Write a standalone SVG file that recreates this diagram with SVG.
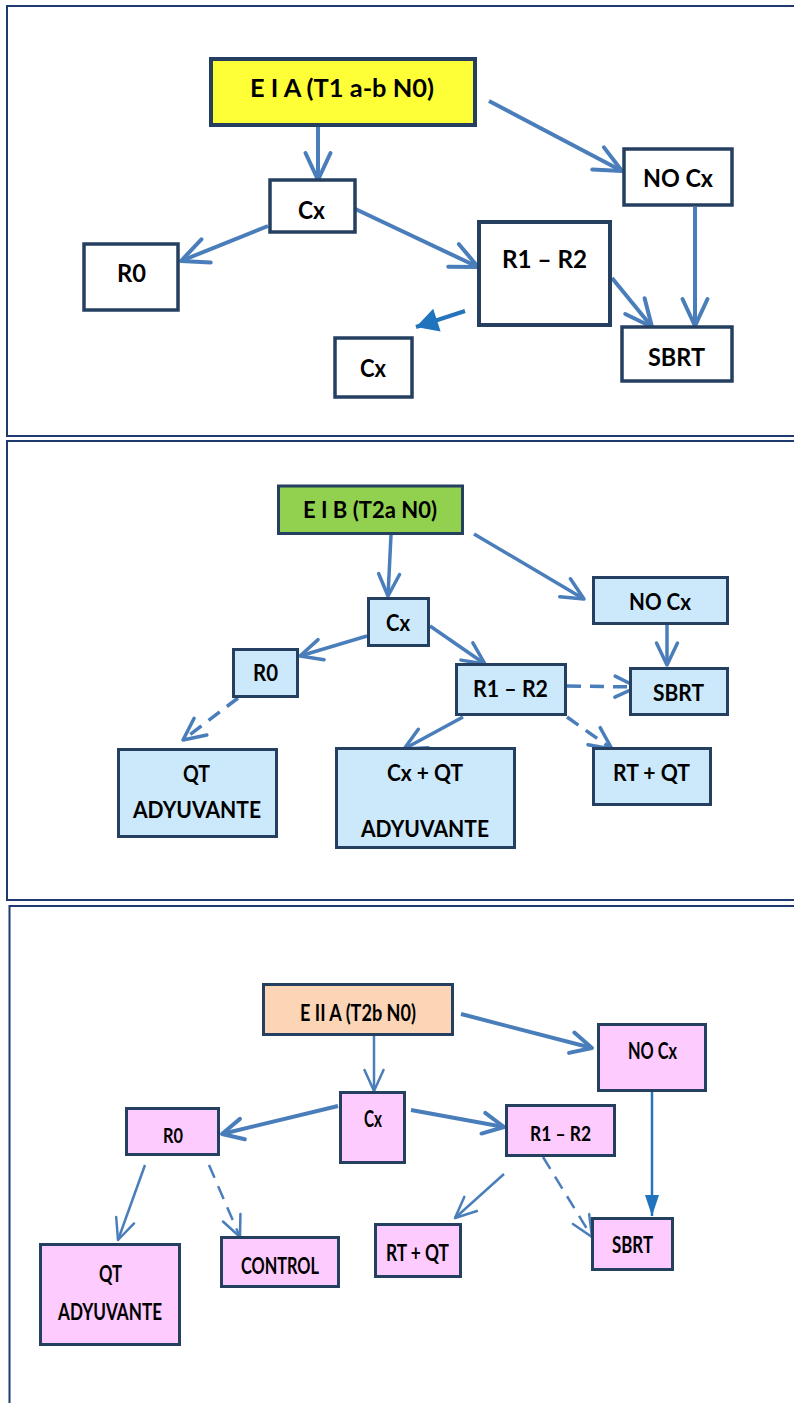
<svg xmlns="http://www.w3.org/2000/svg" width="794" height="1403" viewBox="0 0 794 1403">
  <style>
    .frame { fill: none; stroke: #1f3a70; stroke-width: 2; }
    .box { stroke: #243f60; }
    .p1 .box { fill: #ffffff; stroke-width: 3.5; }
    .p2 .box { fill: #cce9fb; stroke-width: 3; }
    .p3 .box { fill: #fdcbfd; stroke-width: 3; }
    .lbl { font-family: Lato, "Liberation Sans", sans-serif; font-weight: 700; fill: #000; }
    .p1 .lbl { font-size: 25px; }
    .p2 .lbl { font-size: 22px; }
    .p3 .lbl { font-size: 23px; }
    .p3 .lbl.sm { font-size: 20.5px; }
    .edge { fill: none; stroke: #4a7ebb; stroke-linecap: butt; }
    .w4 { stroke-width: 4; }
    .w35 { stroke-width: 3.5; }
    .w25 { stroke-width: 2.5; }
    .dash { stroke-dasharray: 14 9; }
    .solid-blue { stroke: #2474bb; }
  </style>
  <defs>
    <marker id="open-l" markerUnits="userSpaceOnUse" orient="auto" refX="0" refY="0" markerWidth="1" markerHeight="1" style="overflow:visible">
      <path d="M-27,-12.5 L0,0 L-27,12.5" fill="none" stroke="#4a7ebb" stroke-width="4" stroke-linejoin="round" stroke-linecap="round"/>
    </marker>
    <marker id="open-m" markerUnits="userSpaceOnUse" orient="auto" refX="0" refY="0" markerWidth="1" markerHeight="1" style="overflow:visible">
      <path d="M-22,-10.5 L0,0 L-22,10.5" fill="none" stroke="#4a7ebb" stroke-width="3.5" stroke-linejoin="round" stroke-linecap="round"/>
    </marker>
    <marker id="open-s4" markerUnits="userSpaceOnUse" orient="auto" refX="0" refY="0" markerWidth="1" markerHeight="1" style="overflow:visible">
      <path d="M-21,-10.5 L0,0 L-21,10.5" fill="none" stroke="#4a7ebb" stroke-width="4" stroke-linejoin="round" stroke-linecap="round"/>
    </marker>
    <marker id="open-s" markerUnits="userSpaceOnUse" orient="auto" refX="0" refY="0" markerWidth="1" markerHeight="1" style="overflow:visible">
      <path d="M-21,-9.5 L0,0 L-21,9.5" fill="none" stroke="#4a7ebb" stroke-width="2.5" stroke-linejoin="round" stroke-linecap="round"/>
    </marker>
    <marker id="tri-l" markerUnits="userSpaceOnUse" orient="auto" refX="0" refY="0" markerWidth="1" markerHeight="1" style="overflow:visible">
      <path d="M0,0 L-22,-12 L-22,12 Z" fill="#1f74bd"/>
    </marker>
    <marker id="tri-s" markerUnits="userSpaceOnUse" orient="auto" refX="0" refY="0" markerWidth="1" markerHeight="1" style="overflow:visible">
      <path d="M0,0 L-21,-7 L-21,7 Z" fill="#1f74bd"/>
    </marker>
  </defs>

  <rect width="794" height="1403" fill="#ffffff"/>

  <!-- panel frames -->
  <g id="frames">
    <rect class="frame" x="7" y="6" width="800" height="430"/>
    <rect class="frame" x="7" y="441" width="800" height="459"/>
    <rect class="frame" x="9.5" y="906" width="800" height="520"/>
  </g>

  <!-- ===== Stage I A ===== -->
  <g class="p1">
    <g id="connectors-1">
      <line class="edge w4" x1="318" y1="127" x2="318" y2="180" marker-end="url(#open-l)"/>
      <line class="edge w4" x1="489" y1="101" x2="622" y2="171" marker-end="url(#open-l)"/>
      <line class="edge w4" x1="268" y1="226" x2="181" y2="261" marker-end="url(#open-l)"/>
      <line class="edge w4" x1="349" y1="206" x2="478" y2="267" marker-end="url(#open-l)"/>
      <line class="edge w4" x1="612" y1="278" x2="652" y2="327" marker-end="url(#open-l)"/>
      <line class="edge w4" x1="695" y1="207" x2="695" y2="326" marker-end="url(#open-l)"/>
      <line class="edge w4 solid-blue" x1="465" y1="311" x2="416" y2="327" marker-end="url(#tri-l)"/>
    </g>
    <g id="n1-eia">
      <rect class="box" x="211" y="59" width="264" height="66" style="fill:#ffff38;stroke-width:4"/>
      <text class="lbl" x="250" y="97" textLength="184" lengthAdjust="spacingAndGlyphs">E I A (T1 a-b N0)</text>
    </g>
    <g id="n1-cx">
      <rect class="box" x="270" y="180" width="85" height="52"/>
      <text class="lbl" x="298" y="219" textLength="27" lengthAdjust="spacingAndGlyphs">Cx</text>
    </g>
    <g id="n1-nocx">
      <rect class="box" x="624" y="149" width="108" height="56"/>
      <text class="lbl" x="643" y="187" textLength="70" lengthAdjust="spacingAndGlyphs">NO Cx</text>
    </g>
    <g id="n1-r0">
      <rect class="box" x="84" y="244" width="94" height="66"/>
      <text class="lbl" x="117" y="282" textLength="29" lengthAdjust="spacingAndGlyphs">R0</text>
    </g>
    <g id="n1-r1r2">
      <rect class="box" x="479" y="222" width="131" height="103" style="stroke-width:4"/>
      <text class="lbl" x="502" y="268" textLength="85" lengthAdjust="spacingAndGlyphs">R1 – R2</text>
    </g>
    <g id="n1-cx2">
      <rect class="box" x="335" y="338" width="77" height="59"/>
      <text class="lbl" x="360" y="377" textLength="26" lengthAdjust="spacingAndGlyphs">Cx</text>
    </g>
    <g id="n1-sbrt">
      <rect class="box" x="622" y="327" width="110" height="54"/>
      <text class="lbl" x="648" y="366" textLength="57" lengthAdjust="spacingAndGlyphs">SBRT</text>
    </g>
  </g>

  <!-- ===== Stage I B ===== -->
  <g class="p2">
    <g id="connectors-2">
      <line class="edge w35" x1="391" y1="535" x2="388" y2="596" marker-end="url(#open-m)"/>
      <line class="edge w35" x1="474" y1="534" x2="584" y2="599" marker-end="url(#open-m)"/>
      <line class="edge w35" x1="367" y1="636" x2="300" y2="656" marker-end="url(#open-m)"/>
      <line class="edge w35" x1="430" y1="626" x2="485" y2="664" marker-end="url(#open-m)"/>
      <line class="edge w35 dash" x1="238" y1="698" x2="183" y2="740" marker-end="url(#open-m)"/>
      <line class="edge w35 dash" x1="567" y1="686" x2="637" y2="687" marker-end="url(#open-m)"/>
      <line class="edge w35" x1="463" y1="717" x2="404" y2="749" marker-end="url(#open-m)"/>
      <line class="edge w35 dash" x1="567" y1="717" x2="612" y2="749" marker-end="url(#open-m)"/>
      <line class="edge w35" x1="667" y1="625" x2="667" y2="665" marker-end="url(#open-m)"/>
    </g>
    <g id="n2-eib">
      <rect class="box" x="278.5" y="486" width="184" height="47.5" style="fill:#92d050"/>
      <text class="lbl" x="303" y="518" textLength="134" lengthAdjust="spacingAndGlyphs">E I B (T2a N0)</text>
    </g>
    <g id="n2-cx">
      <rect class="box" x="368.5" y="598.5" width="60" height="47"/>
      <text class="lbl" x="386" y="631" textLength="24" lengthAdjust="spacingAndGlyphs">Cx</text>
    </g>
    <g id="n2-nocx">
      <rect class="box" x="593.5" y="577.5" width="134" height="46"/>
      <text class="lbl" x="629" y="610" textLength="62" lengthAdjust="spacingAndGlyphs">NO Cx</text>
    </g>
    <g id="n2-r0">
      <rect class="box" x="233.5" y="649.5" width="64" height="47"/>
      <text class="lbl" x="253" y="681" textLength="25" lengthAdjust="spacingAndGlyphs">R0</text>
    </g>
    <g id="n2-r1r2">
      <rect class="box" x="456.5" y="664.5" width="109" height="50"/>
      <text class="lbl" x="473" y="697" textLength="75" lengthAdjust="spacingAndGlyphs">R1 – R2</text>
    </g>
    <g id="n2-sbrt">
      <rect class="box" x="630.5" y="668.5" width="97" height="46"/>
      <text class="lbl" x="653" y="701" textLength="51" lengthAdjust="spacingAndGlyphs">SBRT</text>
    </g>
    <g id="n2-qt">
      <rect class="box" x="118.5" y="749.5" width="158" height="87"/>
      <text class="lbl" x="183" y="782" textLength="27" lengthAdjust="spacingAndGlyphs">QT</text>
      <text class="lbl" x="133" y="818" textLength="128" lengthAdjust="spacingAndGlyphs">ADYUVANTE</text>
    </g>
    <g id="n2-cxqt">
      <rect class="box" x="336.5" y="748.5" width="178" height="99"/>
      <text class="lbl" x="387" y="781" textLength="76" lengthAdjust="spacingAndGlyphs">Cx + QT</text>
      <text class="lbl" x="361" y="837" textLength="128" lengthAdjust="spacingAndGlyphs">ADYUVANTE</text>
    </g>
    <g id="n2-rtqt">
      <rect class="box" x="593.5" y="748.5" width="117" height="56"/>
      <text class="lbl" x="613" y="781" textLength="77" lengthAdjust="spacingAndGlyphs">RT + QT</text>
    </g>
  </g>

  <!-- ===== Stage II A ===== -->
  <g class="p3">
    <g id="connectors-3">
      <line class="edge w25" x1="374" y1="1036" x2="374" y2="1091" marker-end="url(#open-s)"/>
      <line class="edge w4" x1="461" y1="1014" x2="592" y2="1048" marker-end="url(#open-s4)"/>
      <line class="edge w4" x1="338" y1="1106" x2="222" y2="1134" marker-end="url(#open-s4)"/>
      <line class="edge w4" x1="411" y1="1110" x2="504" y2="1127" marker-end="url(#open-s4)"/>
      <line class="edge w25 solid-blue" x1="652" y1="1092" x2="652" y2="1216" marker-end="url(#tri-s)"/>
      <line class="edge w25" x1="145" y1="1165" x2="118" y2="1240" marker-end="url(#open-s)"/>
      <line class="edge w25 dash" x1="209" y1="1165" x2="240" y2="1237" marker-end="url(#open-s)"/>
      <line class="edge w25" x1="504" y1="1174" x2="455" y2="1218" marker-end="url(#open-s)"/>
      <line class="edge w25 dash" x1="543" y1="1157" x2="592" y2="1237" marker-end="url(#open-s)"/>
    </g>
    <g id="n3-eiia">
      <rect class="box" x="263.5" y="984.5" width="189" height="50" style="fill:#fbd5b5"/>
      <text class="lbl" x="300" y="1021" textLength="116" lengthAdjust="spacingAndGlyphs">E II A (T2b N0)</text>
    </g>
    <g id="n3-nocx">
      <rect class="box" x="598.5" y="1024.5" width="107" height="66"/>
      <text class="lbl" x="628" y="1059" textLength="49" lengthAdjust="spacingAndGlyphs">NO Cx</text>
    </g>
    <g id="n3-cx">
      <rect class="box" x="340.5" y="1092.5" width="64" height="70"/>
      <text class="lbl" x="364" y="1127" textLength="18" lengthAdjust="spacingAndGlyphs">Cx</text>
    </g>
    <g id="n3-r0">
      <rect class="box" x="126.5" y="1108.5" width="92" height="46"/>
      <text class="lbl sm" x="163" y="1143" textLength="20" lengthAdjust="spacingAndGlyphs">R0</text>
    </g>
    <g id="n3-r1r2">
      <rect class="box" x="506.5" y="1105.5" width="108" height="50"/>
      <text class="lbl sm" x="530" y="1141" textLength="61" lengthAdjust="spacingAndGlyphs">R1 – R2</text>
    </g>
    <g id="n3-qt">
      <rect class="box" x="40.5" y="1244.5" width="139" height="100"/>
      <text class="lbl" x="99" y="1282" textLength="23" lengthAdjust="spacingAndGlyphs">QT</text>
      <text class="lbl" x="58" y="1320" textLength="104" lengthAdjust="spacingAndGlyphs">ADYUVANTE</text>
    </g>
    <g id="n3-control">
      <rect class="box" x="221.5" y="1237.5" width="117" height="49"/>
      <text class="lbl" x="241" y="1274" textLength="78" lengthAdjust="spacingAndGlyphs">CONTROL</text>
    </g>
    <g id="n3-rtqt">
      <rect class="box" x="375.5" y="1224.5" width="85" height="52"/>
      <text class="lbl" x="386" y="1261" textLength="63" lengthAdjust="spacingAndGlyphs">RT + QT</text>
    </g>
    <g id="n3-sbrt">
      <rect class="box" x="592.5" y="1218.5" width="80" height="51"/>
      <text class="lbl" x="612" y="1253" textLength="41" lengthAdjust="spacingAndGlyphs">SBRT</text>
    </g>
  </g>
</svg>
